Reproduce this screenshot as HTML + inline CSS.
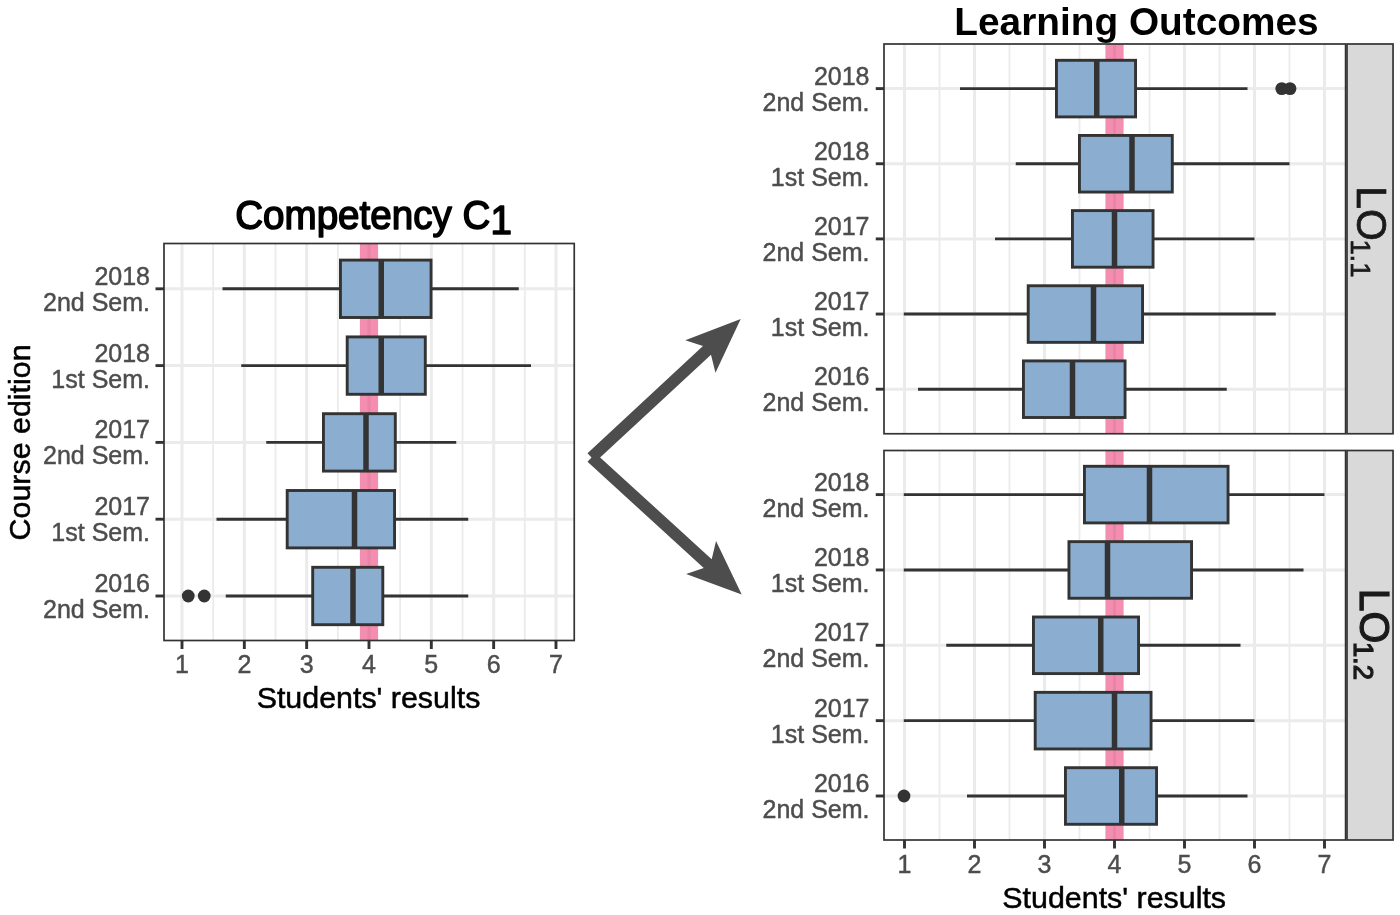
<!DOCTYPE html>
<html lang="en"><head><meta charset="utf-8"><title>Competency and Learning Outcomes</title>
<style>
html,body{margin:0;padding:0;background:#fff;}
body{width:1400px;height:915px;overflow:hidden;}
svg{display:block;}
text{font-family:"Liberation Sans",Arial,Helvetica,sans-serif;}
.tk{font-size:25px;fill:#4D4D4D;stroke:#4D4D4D;stroke-width:0.45px;}
.ax{font-size:30.4px;fill:#000;stroke:#000;stroke-width:0.5px;}
.t1{font-size:38.6px;fill:#000;stroke:#000;stroke-width:1.5px;stroke-linejoin:round;}
.t2{font-size:38.8px;font-weight:bold;fill:#000;}
.st{font-size:41px;fill:#1A1A1A;stroke:#1A1A1A;}
</style></head><body>
<svg width="1400" height="915" viewBox="0 0 1400 915">
<rect width="1400" height="915" fill="#fff"/>
<g>
<line x1="213.16" x2="213.16" y1="243.5" y2="640.5" stroke="#EBEBEB" stroke-width="1.8"/>
<line x1="275.5" x2="275.5" y1="243.5" y2="640.5" stroke="#EBEBEB" stroke-width="1.8"/>
<line x1="337.82" x2="337.82" y1="243.5" y2="640.5" stroke="#EBEBEB" stroke-width="1.8"/>
<line x1="400.15" x2="400.15" y1="243.5" y2="640.5" stroke="#EBEBEB" stroke-width="1.8"/>
<line x1="462.49" x2="462.49" y1="243.5" y2="640.5" stroke="#EBEBEB" stroke-width="1.8"/>
<line x1="524.82" x2="524.82" y1="243.5" y2="640.5" stroke="#EBEBEB" stroke-width="1.8"/>
<line x1="182" x2="182" y1="243.5" y2="640.5" stroke="#EBEBEB" stroke-width="3.0"/>
<line x1="244.33" x2="244.33" y1="243.5" y2="640.5" stroke="#EBEBEB" stroke-width="3.0"/>
<line x1="306.66" x2="306.66" y1="243.5" y2="640.5" stroke="#EBEBEB" stroke-width="3.0"/>
<line x1="368.99" x2="368.99" y1="243.5" y2="640.5" stroke="#EBEBEB" stroke-width="3.0"/>
<line x1="431.32" x2="431.32" y1="243.5" y2="640.5" stroke="#EBEBEB" stroke-width="3.0"/>
<line x1="493.65" x2="493.65" y1="243.5" y2="640.5" stroke="#EBEBEB" stroke-width="3.0"/>
<line x1="555.98" x2="555.98" y1="243.5" y2="640.5" stroke="#EBEBEB" stroke-width="3.0"/>
<line x1="164" x2="574.25" y1="288.8" y2="288.8" stroke="#EBEBEB" stroke-width="3.0"/>
<line x1="164" x2="574.25" y1="365.6" y2="365.6" stroke="#EBEBEB" stroke-width="3.0"/>
<line x1="164" x2="574.25" y1="442.4" y2="442.4" stroke="#EBEBEB" stroke-width="3.0"/>
<line x1="164" x2="574.25" y1="519.2" y2="519.2" stroke="#EBEBEB" stroke-width="3.0"/>
<line x1="164" x2="574.25" y1="596" y2="596" stroke="#EBEBEB" stroke-width="3.0"/>
<rect x="359.89" y="243.5" width="18.2" height="397" fill="#E91E63" fill-opacity="0.5"/>
<line x1="222.5" x2="340.45" y1="288.8" y2="288.8" stroke="#333333" stroke-width="2.9"/>
<line x1="431.05" x2="518.75" y1="288.8" y2="288.8" stroke="#333333" stroke-width="2.9"/>
<rect x="340.45" y="260.1" width="90.6" height="57.4" fill="#8AADD0" stroke="#333333" stroke-width="2.9"/>
<line x1="381.25" x2="381.25" y1="260.1" y2="317.5" stroke="#333333" stroke-width="5.5"/>
<line x1="241.25" x2="347.2" y1="365.6" y2="365.6" stroke="#333333" stroke-width="2.9"/>
<line x1="425.3" x2="531" y1="365.6" y2="365.6" stroke="#333333" stroke-width="2.9"/>
<rect x="347.2" y="336.9" width="78.1" height="57.4" fill="#8AADD0" stroke="#333333" stroke-width="2.9"/>
<line x1="381.25" x2="381.25" y1="336.9" y2="394.3" stroke="#333333" stroke-width="5.5"/>
<line x1="266.25" x2="323.45" y1="442.4" y2="442.4" stroke="#333333" stroke-width="2.9"/>
<line x1="395.3" x2="456.25" y1="442.4" y2="442.4" stroke="#333333" stroke-width="2.9"/>
<rect x="323.45" y="413.7" width="71.85" height="57.4" fill="#8AADD0" stroke="#333333" stroke-width="2.9"/>
<line x1="366" x2="366" y1="413.7" y2="471.1" stroke="#333333" stroke-width="5.5"/>
<line x1="216.5" x2="287.2" y1="519.2" y2="519.2" stroke="#333333" stroke-width="2.9"/>
<line x1="394.55" x2="468.25" y1="519.2" y2="519.2" stroke="#333333" stroke-width="2.9"/>
<rect x="287.2" y="490.5" width="107.35" height="57.4" fill="#8AADD0" stroke="#333333" stroke-width="2.9"/>
<line x1="354.5" x2="354.5" y1="490.5" y2="547.9" stroke="#333333" stroke-width="5.5"/>
<line x1="225.75" x2="312.7" y1="596" y2="596" stroke="#333333" stroke-width="2.9"/>
<line x1="382.8" x2="468.25" y1="596" y2="596" stroke="#333333" stroke-width="2.9"/>
<rect x="312.7" y="567.3" width="70.1" height="57.4" fill="#8AADD0" stroke="#333333" stroke-width="2.9"/>
<line x1="353" x2="353" y1="567.3" y2="624.7" stroke="#333333" stroke-width="5.5"/>
<circle cx="188.25" cy="596" r="6.4" fill="#333333"/>
<circle cx="204.25" cy="596" r="6.4" fill="#333333"/>
<rect x="164" y="243.5" width="410.25" height="397" fill="none" stroke="#333333" stroke-width="1.7"/>
<line x1="155.5" x2="164" y1="288.8" y2="288.8" stroke="#333333" stroke-width="2.9"/>
<text x="150" y="284.7" text-anchor="end" class="tk">2018</text>
<text x="150" y="310.8" text-anchor="end" class="tk">2nd Sem.</text>
<line x1="155.5" x2="164" y1="365.6" y2="365.6" stroke="#333333" stroke-width="2.9"/>
<text x="150" y="361.5" text-anchor="end" class="tk">2018</text>
<text x="150" y="387.6" text-anchor="end" class="tk">1st Sem.</text>
<line x1="155.5" x2="164" y1="442.4" y2="442.4" stroke="#333333" stroke-width="2.9"/>
<text x="150" y="438.3" text-anchor="end" class="tk">2017</text>
<text x="150" y="464.4" text-anchor="end" class="tk">2nd Sem.</text>
<line x1="155.5" x2="164" y1="519.2" y2="519.2" stroke="#333333" stroke-width="2.9"/>
<text x="150" y="515.1" text-anchor="end" class="tk">2017</text>
<text x="150" y="541.2" text-anchor="end" class="tk">1st Sem.</text>
<line x1="155.5" x2="164" y1="596" y2="596" stroke="#333333" stroke-width="2.9"/>
<text x="150" y="591.9" text-anchor="end" class="tk">2016</text>
<text x="150" y="618" text-anchor="end" class="tk">2nd Sem.</text>
</g>
<line x1="182" x2="182" y1="640.5" y2="649" stroke="#333333" stroke-width="2.9"/>
<text x="182" y="673.4" text-anchor="middle" class="tk">1</text>
<line x1="244.33" x2="244.33" y1="640.5" y2="649" stroke="#333333" stroke-width="2.9"/>
<text x="244.33" y="673.4" text-anchor="middle" class="tk">2</text>
<line x1="306.66" x2="306.66" y1="640.5" y2="649" stroke="#333333" stroke-width="2.9"/>
<text x="306.66" y="673.4" text-anchor="middle" class="tk">3</text>
<line x1="368.99" x2="368.99" y1="640.5" y2="649" stroke="#333333" stroke-width="2.9"/>
<text x="368.99" y="673.4" text-anchor="middle" class="tk">4</text>
<line x1="431.32" x2="431.32" y1="640.5" y2="649" stroke="#333333" stroke-width="2.9"/>
<text x="431.32" y="673.4" text-anchor="middle" class="tk">5</text>
<line x1="493.65" x2="493.65" y1="640.5" y2="649" stroke="#333333" stroke-width="2.9"/>
<text x="493.65" y="673.4" text-anchor="middle" class="tk">6</text>
<line x1="555.98" x2="555.98" y1="640.5" y2="649" stroke="#333333" stroke-width="2.9"/>
<text x="555.98" y="673.4" text-anchor="middle" class="tk">7</text>
<text x="368.5" y="708.3" text-anchor="middle" class="ax">Students' results</text>
<text transform="translate(30.2,442.4) rotate(-90)" text-anchor="middle" class="ax">Course edition</text>
<text transform="translate(235.2,228.9) scale(1,1.035)" class="t1">Competency C<tspan dy="5.2">1</tspan></text>
<rect x="1347" y="44" width="46.05" height="389.75" fill="#D9D9D9" stroke="#333333" stroke-width="1.7"/>
<g>
<line x1="939.5" x2="939.5" y1="44" y2="433.75" stroke="#EBEBEB" stroke-width="1.8"/>
<line x1="1009.5" x2="1009.5" y1="44" y2="433.75" stroke="#EBEBEB" stroke-width="1.8"/>
<line x1="1079.5" x2="1079.5" y1="44" y2="433.75" stroke="#EBEBEB" stroke-width="1.8"/>
<line x1="1149.5" x2="1149.5" y1="44" y2="433.75" stroke="#EBEBEB" stroke-width="1.8"/>
<line x1="1219.5" x2="1219.5" y1="44" y2="433.75" stroke="#EBEBEB" stroke-width="1.8"/>
<line x1="1289.5" x2="1289.5" y1="44" y2="433.75" stroke="#EBEBEB" stroke-width="1.8"/>
<line x1="904.5" x2="904.5" y1="44" y2="433.75" stroke="#EBEBEB" stroke-width="3.0"/>
<line x1="974.5" x2="974.5" y1="44" y2="433.75" stroke="#EBEBEB" stroke-width="3.0"/>
<line x1="1044.5" x2="1044.5" y1="44" y2="433.75" stroke="#EBEBEB" stroke-width="3.0"/>
<line x1="1114.5" x2="1114.5" y1="44" y2="433.75" stroke="#EBEBEB" stroke-width="3.0"/>
<line x1="1184.5" x2="1184.5" y1="44" y2="433.75" stroke="#EBEBEB" stroke-width="3.0"/>
<line x1="1254.5" x2="1254.5" y1="44" y2="433.75" stroke="#EBEBEB" stroke-width="3.0"/>
<line x1="1324.5" x2="1324.5" y1="44" y2="433.75" stroke="#EBEBEB" stroke-width="3.0"/>
<line x1="884" x2="1345.6" y1="88.6" y2="88.6" stroke="#EBEBEB" stroke-width="3.0"/>
<line x1="884" x2="1345.6" y1="163.75" y2="163.75" stroke="#EBEBEB" stroke-width="3.0"/>
<line x1="884" x2="1345.6" y1="238.9" y2="238.9" stroke="#EBEBEB" stroke-width="3.0"/>
<line x1="884" x2="1345.6" y1="314.05" y2="314.05" stroke="#EBEBEB" stroke-width="3.0"/>
<line x1="884" x2="1345.6" y1="389.2" y2="389.2" stroke="#EBEBEB" stroke-width="3.0"/>
<rect x="1105.4" y="44" width="18.2" height="389.75" fill="#E91E63" fill-opacity="0.5"/>
<line x1="960" x2="1056.45" y1="88.6" y2="88.6" stroke="#333333" stroke-width="2.9"/>
<line x1="1135.55" x2="1247.5" y1="88.6" y2="88.6" stroke="#333333" stroke-width="2.9"/>
<rect x="1056.45" y="60.3" width="79.1" height="56.6" fill="#8AADD0" stroke="#333333" stroke-width="2.9"/>
<line x1="1096.75" x2="1096.75" y1="60.3" y2="116.9" stroke="#333333" stroke-width="5.5"/>
<line x1="1015.75" x2="1079.45" y1="163.75" y2="163.75" stroke="#333333" stroke-width="2.9"/>
<line x1="1172.3" x2="1289.5" y1="163.75" y2="163.75" stroke="#333333" stroke-width="2.9"/>
<rect x="1079.45" y="135.45" width="92.85" height="56.6" fill="#8AADD0" stroke="#333333" stroke-width="2.9"/>
<line x1="1132" x2="1132" y1="135.45" y2="192.05" stroke="#333333" stroke-width="5.5"/>
<line x1="995" x2="1072.45" y1="238.9" y2="238.9" stroke="#333333" stroke-width="2.9"/>
<line x1="1153.05" x2="1254.5" y1="238.9" y2="238.9" stroke="#333333" stroke-width="2.9"/>
<rect x="1072.45" y="210.6" width="80.6" height="56.6" fill="#8AADD0" stroke="#333333" stroke-width="2.9"/>
<line x1="1114.5" x2="1114.5" y1="210.6" y2="267.2" stroke="#333333" stroke-width="5.5"/>
<line x1="903.75" x2="1028.2" y1="314.05" y2="314.05" stroke="#333333" stroke-width="2.9"/>
<line x1="1142.55" x2="1275.75" y1="314.05" y2="314.05" stroke="#333333" stroke-width="2.9"/>
<rect x="1028.2" y="285.75" width="114.35" height="56.6" fill="#8AADD0" stroke="#333333" stroke-width="2.9"/>
<line x1="1093.5" x2="1093.5" y1="285.75" y2="342.35" stroke="#333333" stroke-width="5.5"/>
<line x1="918" x2="1023.45" y1="389.2" y2="389.2" stroke="#333333" stroke-width="2.9"/>
<line x1="1125.05" x2="1226.75" y1="389.2" y2="389.2" stroke="#333333" stroke-width="2.9"/>
<rect x="1023.45" y="360.9" width="101.6" height="56.6" fill="#8AADD0" stroke="#333333" stroke-width="2.9"/>
<line x1="1072.5" x2="1072.5" y1="360.9" y2="417.5" stroke="#333333" stroke-width="5.5"/>
<circle cx="1281.75" cy="88.6" r="6.4" fill="#333333"/>
<circle cx="1290" cy="88.6" r="6.4" fill="#333333"/>
<rect x="884" y="44" width="461.6" height="389.75" fill="none" stroke="#333333" stroke-width="1.7"/>
<line x1="875.75" x2="884" y1="88.6" y2="88.6" stroke="#333333" stroke-width="2.9"/>
<text x="869.5" y="84.5" text-anchor="end" class="tk">2018</text>
<text x="869.5" y="110.6" text-anchor="end" class="tk">2nd Sem.</text>
<line x1="875.75" x2="884" y1="163.75" y2="163.75" stroke="#333333" stroke-width="2.9"/>
<text x="869.5" y="159.65" text-anchor="end" class="tk">2018</text>
<text x="869.5" y="185.75" text-anchor="end" class="tk">1st Sem.</text>
<line x1="875.75" x2="884" y1="238.9" y2="238.9" stroke="#333333" stroke-width="2.9"/>
<text x="869.5" y="234.8" text-anchor="end" class="tk">2017</text>
<text x="869.5" y="260.9" text-anchor="end" class="tk">2nd Sem.</text>
<line x1="875.75" x2="884" y1="314.05" y2="314.05" stroke="#333333" stroke-width="2.9"/>
<text x="869.5" y="309.95" text-anchor="end" class="tk">2017</text>
<text x="869.5" y="336.05" text-anchor="end" class="tk">1st Sem.</text>
<line x1="875.75" x2="884" y1="389.2" y2="389.2" stroke="#333333" stroke-width="2.9"/>
<text x="869.5" y="385.1" text-anchor="end" class="tk">2016</text>
<text x="869.5" y="411.2" text-anchor="end" class="tk">2nd Sem.</text>
</g>
<text transform="translate(1356.5,186.2) rotate(90) scale(1,1.04)" class="st" stroke-width="0.7">LO<tspan dx="-1.5" dy="5.5" font-size="27.4">1.1</tspan></text>
<rect x="1347" y="450.5" width="46.05" height="389.5" fill="#D9D9D9" stroke="#333333" stroke-width="1.7"/>
<g>
<line x1="939.5" x2="939.5" y1="450.5" y2="840" stroke="#EBEBEB" stroke-width="1.8"/>
<line x1="1009.5" x2="1009.5" y1="450.5" y2="840" stroke="#EBEBEB" stroke-width="1.8"/>
<line x1="1079.5" x2="1079.5" y1="450.5" y2="840" stroke="#EBEBEB" stroke-width="1.8"/>
<line x1="1149.5" x2="1149.5" y1="450.5" y2="840" stroke="#EBEBEB" stroke-width="1.8"/>
<line x1="1219.5" x2="1219.5" y1="450.5" y2="840" stroke="#EBEBEB" stroke-width="1.8"/>
<line x1="1289.5" x2="1289.5" y1="450.5" y2="840" stroke="#EBEBEB" stroke-width="1.8"/>
<line x1="904.5" x2="904.5" y1="450.5" y2="840" stroke="#EBEBEB" stroke-width="3.0"/>
<line x1="974.5" x2="974.5" y1="450.5" y2="840" stroke="#EBEBEB" stroke-width="3.0"/>
<line x1="1044.5" x2="1044.5" y1="450.5" y2="840" stroke="#EBEBEB" stroke-width="3.0"/>
<line x1="1114.5" x2="1114.5" y1="450.5" y2="840" stroke="#EBEBEB" stroke-width="3.0"/>
<line x1="1184.5" x2="1184.5" y1="450.5" y2="840" stroke="#EBEBEB" stroke-width="3.0"/>
<line x1="1254.5" x2="1254.5" y1="450.5" y2="840" stroke="#EBEBEB" stroke-width="3.0"/>
<line x1="1324.5" x2="1324.5" y1="450.5" y2="840" stroke="#EBEBEB" stroke-width="3.0"/>
<line x1="884" x2="1345.6" y1="494.6" y2="494.6" stroke="#EBEBEB" stroke-width="3.0"/>
<line x1="884" x2="1345.6" y1="569.95" y2="569.95" stroke="#EBEBEB" stroke-width="3.0"/>
<line x1="884" x2="1345.6" y1="645.3" y2="645.3" stroke="#EBEBEB" stroke-width="3.0"/>
<line x1="884" x2="1345.6" y1="720.65" y2="720.65" stroke="#EBEBEB" stroke-width="3.0"/>
<line x1="884" x2="1345.6" y1="796" y2="796" stroke="#EBEBEB" stroke-width="3.0"/>
<rect x="1105.4" y="450.5" width="18.2" height="389.5" fill="#E91E63" fill-opacity="0.5"/>
<line x1="903.75" x2="1084.45" y1="494.6" y2="494.6" stroke="#333333" stroke-width="2.9"/>
<line x1="1228.05" x2="1324.5" y1="494.6" y2="494.6" stroke="#333333" stroke-width="2.9"/>
<rect x="1084.45" y="466.3" width="143.6" height="56.6" fill="#8AADD0" stroke="#333333" stroke-width="2.9"/>
<line x1="1149.5" x2="1149.5" y1="466.3" y2="522.9" stroke="#333333" stroke-width="5.5"/>
<line x1="903.75" x2="1068.95" y1="569.95" y2="569.95" stroke="#333333" stroke-width="2.9"/>
<line x1="1191.55" x2="1303.5" y1="569.95" y2="569.95" stroke="#333333" stroke-width="2.9"/>
<rect x="1068.95" y="541.65" width="122.6" height="56.6" fill="#8AADD0" stroke="#333333" stroke-width="2.9"/>
<line x1="1107.5" x2="1107.5" y1="541.65" y2="598.25" stroke="#333333" stroke-width="5.5"/>
<line x1="946.25" x2="1033.45" y1="645.3" y2="645.3" stroke="#333333" stroke-width="2.9"/>
<line x1="1138.55" x2="1240.5" y1="645.3" y2="645.3" stroke="#333333" stroke-width="2.9"/>
<rect x="1033.45" y="617" width="105.1" height="56.6" fill="#8AADD0" stroke="#333333" stroke-width="2.9"/>
<line x1="1100.75" x2="1100.75" y1="617" y2="673.6" stroke="#333333" stroke-width="5.5"/>
<line x1="903.75" x2="1035.2" y1="720.65" y2="720.65" stroke="#333333" stroke-width="2.9"/>
<line x1="1151.05" x2="1254.5" y1="720.65" y2="720.65" stroke="#333333" stroke-width="2.9"/>
<rect x="1035.2" y="692.35" width="115.85" height="56.6" fill="#8AADD0" stroke="#333333" stroke-width="2.9"/>
<line x1="1114.5" x2="1114.5" y1="692.35" y2="748.95" stroke="#333333" stroke-width="5.5"/>
<line x1="967" x2="1065.45" y1="796" y2="796" stroke="#333333" stroke-width="2.9"/>
<line x1="1156.55" x2="1247.5" y1="796" y2="796" stroke="#333333" stroke-width="2.9"/>
<rect x="1065.45" y="767.7" width="91.1" height="56.6" fill="#8AADD0" stroke="#333333" stroke-width="2.9"/>
<line x1="1121.75" x2="1121.75" y1="767.7" y2="824.3" stroke="#333333" stroke-width="5.5"/>
<circle cx="904" cy="796" r="6.4" fill="#333333"/>
<rect x="884" y="450.5" width="461.6" height="389.5" fill="none" stroke="#333333" stroke-width="1.7"/>
<line x1="875.75" x2="884" y1="494.6" y2="494.6" stroke="#333333" stroke-width="2.9"/>
<text x="869.5" y="490.5" text-anchor="end" class="tk">2018</text>
<text x="869.5" y="516.6" text-anchor="end" class="tk">2nd Sem.</text>
<line x1="875.75" x2="884" y1="569.95" y2="569.95" stroke="#333333" stroke-width="2.9"/>
<text x="869.5" y="565.85" text-anchor="end" class="tk">2018</text>
<text x="869.5" y="591.95" text-anchor="end" class="tk">1st Sem.</text>
<line x1="875.75" x2="884" y1="645.3" y2="645.3" stroke="#333333" stroke-width="2.9"/>
<text x="869.5" y="641.2" text-anchor="end" class="tk">2017</text>
<text x="869.5" y="667.3" text-anchor="end" class="tk">2nd Sem.</text>
<line x1="875.75" x2="884" y1="720.65" y2="720.65" stroke="#333333" stroke-width="2.9"/>
<text x="869.5" y="716.55" text-anchor="end" class="tk">2017</text>
<text x="869.5" y="742.65" text-anchor="end" class="tk">1st Sem.</text>
<line x1="875.75" x2="884" y1="796" y2="796" stroke="#333333" stroke-width="2.9"/>
<text x="869.5" y="791.9" text-anchor="end" class="tk">2016</text>
<text x="869.5" y="818" text-anchor="end" class="tk">2nd Sem.</text>
</g>
<text transform="translate(1360,588.7) rotate(90) scale(1,1.04)" class="st" stroke-width="1.2">LO<tspan dx="-1.5" dy="5.5" font-size="27.4">1.2</tspan></text>
<line x1="904.5" x2="904.5" y1="840" y2="848.5" stroke="#333333" stroke-width="2.9"/>
<text x="904.5" y="872.7" text-anchor="middle" class="tk">1</text>
<line x1="974.5" x2="974.5" y1="840" y2="848.5" stroke="#333333" stroke-width="2.9"/>
<text x="974.5" y="872.7" text-anchor="middle" class="tk">2</text>
<line x1="1044.5" x2="1044.5" y1="840" y2="848.5" stroke="#333333" stroke-width="2.9"/>
<text x="1044.5" y="872.7" text-anchor="middle" class="tk">3</text>
<line x1="1114.5" x2="1114.5" y1="840" y2="848.5" stroke="#333333" stroke-width="2.9"/>
<text x="1114.5" y="872.7" text-anchor="middle" class="tk">4</text>
<line x1="1184.5" x2="1184.5" y1="840" y2="848.5" stroke="#333333" stroke-width="2.9"/>
<text x="1184.5" y="872.7" text-anchor="middle" class="tk">5</text>
<line x1="1254.5" x2="1254.5" y1="840" y2="848.5" stroke="#333333" stroke-width="2.9"/>
<text x="1254.5" y="872.7" text-anchor="middle" class="tk">6</text>
<line x1="1324.5" x2="1324.5" y1="840" y2="848.5" stroke="#333333" stroke-width="2.9"/>
<text x="1324.5" y="872.7" text-anchor="middle" class="tk">7</text>
<text x="1114.2" y="907.5" text-anchor="middle" class="ax">Students' results</text>
<text x="954.3" y="34.8" class="t2">Learning Outcomes</text>
<polygon points="740.7,319.1 715.47,372.78 710.99,354.71 595.51,461.83 587.49,453.17 702.96,346.06 685.28,340.23" fill="#4D4D4D"/>
<polygon points="741.7,594.6 686.11,573.92 703.75,567.95 587.52,461.86 595.48,453.14 711.7,559.23 716.04,541.12" fill="#4D4D4D"/>
</svg>
</body></html>
